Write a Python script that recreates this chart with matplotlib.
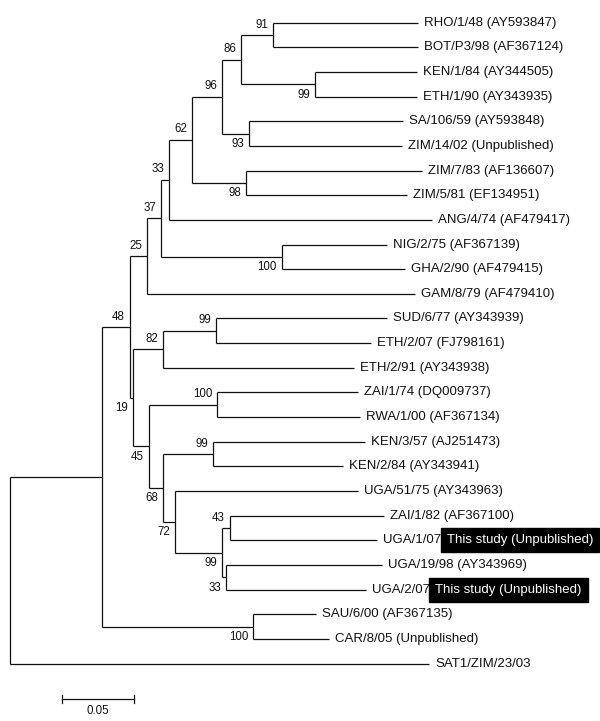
import matplotlib
matplotlib.use("Agg")
import matplotlib.pyplot as plt

plt.rcParams['font.family'] = ['Liberation Sans', 'DejaVu Sans']

# Tree in pre-order: node names, parent names, branch lengths (subst/site), bootstrap, label side
node_names = ["root", "A", "N48", "N25", "N37", "N33", "N62", "N96", "N86", "N91",
              "RHO/1/48 (AY593847)", "BOT/P3/98 (AF367124)", "KE",
              "KEN/1/84 (AY344505)", "ETH/1/90 (AY343935)", "SZ",
              "SA/106/59 (AY593848)", "ZIM/14/02 (Unpublished)", "ZZ",
              "ZIM/7/83 (AF136607)", "ZIM/5/81 (EF134951)", "ANG/4/74 (AF479417)", "NG",
              "NIG/2/75 (AF367139)", "GHA/2/90 (AF479415)", "GAM/8/79 (AF479410)",
              "N19", "N82", "SE", "SUD/6/77 (AY343939)", "ETH/2/07 (FJ798161)",
              "ETH/2/91 (AY343938)", "N45", "ZR", "ZAI/1/74 (DQ009737)", "RWA/1/00 (AF367134)",
              "N68", "KK", "KEN/3/57 (AJ251473)", "KEN/2/84 (AY343941)", "N72",
              "UGA/51/75 (AY343963)", "N99", "N43", "ZAI/1/82 (AF367100)", "UGA/1/07-",
              "N33b", "UGA/19/98 (AY343969)", "UGA/2/07-", "SC", "SAU/6/00 (AF367135)",
              "CAR/8/05 (Unpublished)", "SAT1/ZIM/23/03"]
node_parents = [None, "root", "A", "N48", "N25", "N37", "N33", "N62", "N96", "N86",
                "N91", "N91", "N86",
                "KE", "KE", "N96",
                "SZ", "SZ", "N62",
                "ZZ", "ZZ", "N33", "N37",
                "NG", "NG", "N25",
                "N48", "N19", "N82", "SE", "SE",
                "N82", "N19", "N45", "ZR", "ZR",
                "N45", "N68", "KK", "KK", "N68",
                "N72", "N72", "N99", "N43", "N43",
                "N99", "N33b", "N33b", "A", "SC",
                "SC", "root"]
branch_lengths = [0.0, 0.0639, 0.0194, 0.0118, 0.0097, 0.0056, 0.0160, 0.0208, 0.0132, 0.0222,
                  0.1007, 0.1007, 0.0514,
                  0.0708, 0.0708, 0.0188,
                  0.1069, 0.1063, 0.0375,
                  0.1222, 0.1118, 0.1826, 0.0840,
                  0.0729, 0.0854, 0.1861,
                  0.0021, 0.0208, 0.0368, 0.1188, 0.1076,
                  0.1326, 0.0111, 0.0472, 0.0979, 0.0993,
                  0.0097, 0.0347, 0.1056, 0.0903, 0.0083,
                  0.1271, 0.0326, 0.0056, 0.1069, 0.1021,
                  0.0028, 0.1083, 0.0972, 0.1049, 0.0438,
                  0.0528, 0.2910]
support_nodes = ["N48", "N25", "N37", "N33", "N62", "N96", "N86", "N91", "KE", "SZ", "ZZ", "NG",
                 "N19", "N82", "SE", "N45", "ZR", "N68", "KK", "N72", "N99", "N43", "N33b", "SC"]
support_values = [48, 25, 37, 33, 62, 96, 86, 91, 99, 93, 98, 100,
                  19, 82, 99, 45, 100, 68, 99, 72, 99, 43, 33, 100]
support_side = ["a", "a", "a", "a", "a", "a", "a", "a", "b", "b", "b", "b",
                "b", "a", "a", "b", "a", "b", "a", "b", "b", "a", "b", "b"]
highlight_leaves = ["UGA/1/07-", "UGA/2/07-"]
highlight_text = "This study (Unpublished)"
scale_length = 0.05

# ---- layout ----
children = {n: [] for n in node_names}
parent_of = dict(zip(node_names, node_parents))
bl = dict(zip(node_names, branch_lengths))
for n, p in zip(node_names, node_parents):
    if p is not None:
        children[p].append(n)

xpos, ypos = {}, {}
leaf_counter = [0]

def layout(n, x):
    xpos[n] = x
    if not children[n]:
        ypos[n] = leaf_counter[0]
        leaf_counter[0] += 1
    else:
        for c in children[n]:
            layout(c, x + bl[c])
        ypos[n] = (ypos[children[n][0]] + ypos[children[n][-1]]) / 2.0

layout("root", 0.0)

fig = plt.figure(figsize=(6.0, 7.21), dpi=100)
ax = fig.add_axes([0, 0, 1, 1])
ax.set_xlim(-10 / 1440, 590 / 1440)
ax.set_ylim(28.33, -0.921)
ax.axis('off')

lc = '#111111'
lw = 0.9
fs_leaf = 9.5
for n in node_names:
    if children[n]:
        ys = [ypos[c] for c in children[n]]
        ax.plot([xpos[n], xpos[n]], [min(ys), max(ys)], color=lc, lw=lw, solid_capstyle='butt')
    p = parent_of[n]
    if p is not None:
        ax.plot([xpos[p], xpos[n]], [ypos[n], ypos[n]], color=lc, lw=lw, solid_capstyle='butt')
    if not children[n]:
        t = ax.annotate(n, xy=(xpos[n], ypos[n]), xytext=(4.3, 0), textcoords='offset points',
                        ha='left', va='center', fontsize=fs_leaf, color='#111111')
        if n in highlight_leaves:
            pad = 0.45
            ax.annotate(highlight_text, xy=(1, 0.5), xycoords=t,
                        xytext=(pad * fs_leaf - 3.5, 0),
                        textcoords='offset points', ha='left', va='center', fontsize=fs_leaf,
                        color='white',
                        bbox=dict(boxstyle=f'square,pad={pad}', facecolor='black',
                                  edgecolor='black'))

for n, v, s in zip(support_nodes, support_values, support_side):
    dy = 7.5 if s == 'a' else -7.5
    ax.annotate(str(v), xy=(xpos[n], ypos[n]), xytext=(-3.5, dy), textcoords='offset points',
                ha='right', va='center', fontsize=8.3, color='#111111')

# scale bar
sb_x0 = 52 / 1440
sb_y = 27.44
ax.plot([sb_x0, sb_x0 + scale_length], [sb_y, sb_y], color=lc, lw=lw)
for xx in (sb_x0, sb_x0 + scale_length):
    ax.plot([xx, xx], [sb_y - 0.15, sb_y + 0.15], color=lc, lw=lw)
ax.text(sb_x0 + scale_length / 2, sb_y + 0.5, f"{scale_length:.2f}", ha='center', va='center',
        fontsize=8.3, color='#111111')

fig.savefig("out.png", dpi=100)
